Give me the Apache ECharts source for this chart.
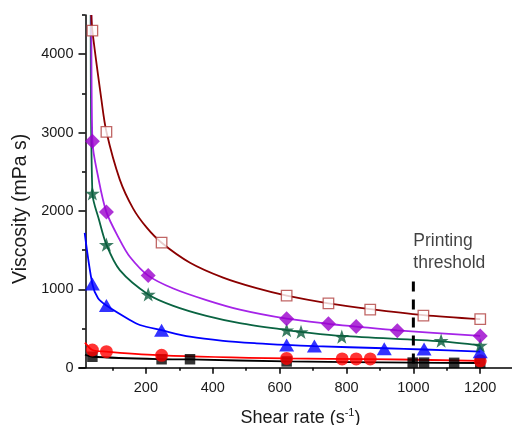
<!DOCTYPE html>
<html>
<head>
<meta charset="utf-8">
<script src="https://cdn.jsdelivr.net/npm/echarts@6/dist/echarts.min.js"></script>
<style>
html,body{margin:0;padding:0;background:#fff;}
#chart{width:512px;height:425px;}
</style>
</head>
<body>
<div id="chart"></div>
<script>
// ---- tick values ----
const xMajorTicks = [200, 400, 600, 800, 1000, 1200];
const xMinorTicks = [100, 300, 500, 700, 900, 1100];
const yMajorTicks = [0, 1000, 2000, 3000, 4000];
const yMinorTicks = [500, 1500, 2500, 3500, 4500];

// ---- measured points (markers) ----
const markersOpenSquare = [[40,4300],[82,3010],[247,1595],[621,920],[746,820],[871,742],[1030,665],[1200,620]];
const markersDiamond    = [[40,2890],[82,1985],[207,1175],[621,625],[746,560],[829,525],[952,470],[1200,405]];
const markersStar       = [[40,2225],[82,1570],[207,935],[621,480],[664,457],[786,397],[1083,345],[1200,285]];
const markersTriangle   = [[40,1067],[82,793],[247,478],[621,290],[704,277],[913,243],[1032,237],[1200,205]];
const markersCircle     = [[40,226],[82,205],[247,158],[621,118],[787,112],[829,112],[871,112],[1200,88]];
const markersSquare     = [[40,140],[247,108],[332,108],[621,80],[998,65],[1032,65],[1122,62],[1200,60]];

// ---- fitted curves ----
const curveOpenSquare = [[37,4500],[40,4300],[67,3420],[82,3010],[122,2400],[162,2030],[202,1790],[247,1595],[332,1340],[431,1150],[531,1015],[621,920],[746,822],[871,748],[1030,672],[1200,620]];
const curveDiamond    = [[37,4500],[40,2890],[57,2440],[82,1985],[122,1630],[152,1416],[207,1175],[282,1010],[381,862],[481,740],[621,625],[746,560],[829,525],[952,475],[1200,405]];
const curveStar       = [[35,4500],[40,2225],[60,1885],[82,1570],[122,1245],[207,935],[282,790],[381,662],[481,570],[621,480],[664,457],[786,405],[1083,335],[1200,285]];
const curveTriangle   = [[17,1720],[40,1067],[57,885],[82,793],[152,609],[182,545],[247,478],[332,396],[431,343],[531,311],[621,290],[704,275],[913,248],[1032,232],[1200,205]];
const curveCircle     = [[18,320],[40,226],[82,205],[247,158],[621,118],[871,110],[1200,88]];
const curveSquare     = [[18,165],[40,140],[247,108],[332,105],[621,80],[1000,65],[1200,60]];

// ---- printing threshold ----
const thresholdLine = [[1000,1100],[1000,0]];
const thresholdLabel = 'Printing\nthreshold';

const FONT = "'Liberation Sans', Arial, sans-serif";
const STAR = 'path://M50,0 L61.8,35.1 L98.1,35.1 L68.8,56.7 L79.4,91 L50,70 L20.6,91 L31.2,56.7 L1.9,35.1 L38.2,35.1 Z';

function curve(name, data, color) {
  return {
    name: name, type: 'line', data: data, showSymbol: false, symbol: 'none',
    smooth: 0.3,
    lineStyle: { color: color, width: 1.8 }, z: 2, silent: true
  };
}
function marks(name, data, symbol, size, itemStyle) {
  return {
    name: name, type: 'scatter', data: data, symbol: symbol, symbolSize: size,
    symbolKeepAspect: true, itemStyle: itemStyle, z: 3, silent: true
  };
}
const plain = function (v) { return String(v); };

const chart = echarts.init(document.getElementById('chart'), null, { renderer: 'canvas' });
const axisLineStyle = { color: '#000', width: 1.5 };
chart.setOption({
  animation: false,
  backgroundColor: '#fff',
  grid: { left: 79, top: 15, width: 433, height: 352.7, containLabel: false, outerBoundsMode: 'none' },
  xAxis: [
    {
      type: 'value', min: 0, max: 1295, interval: 200,
      axisLine: { show: true, onZero: false, lineStyle: axisLineStyle },
      axisTick: { show: true, length: 6, customValues: xMajorTicks, lineStyle: axisLineStyle },
      axisLabel: { customValues: xMajorTicks, formatter: plain, margin: 13, fontSize: 14.5, color: '#1a1a1a', fontFamily: FONT },
      splitLine: { show: false },
      name: 'Shear rate (s{sup|-1})', nameLocation: 'middle', nameGap: 40,
      nameTextStyle: {
        fontSize: 18, color: '#1a1a1a', fontFamily: FONT, padding: [0, 0, 0, 10],
        rich: { sup: { fontSize: 11, fontFamily: FONT, color: '#1a1a1a', padding: [0, 0, 9, 0] } }
      }
    },
    {
      type: 'value', min: 0, max: 1295, position: 'bottom',
      axisLine: { show: false, onZero: false },
      axisTick: { show: true, length: 3, customValues: xMinorTicks, lineStyle: axisLineStyle },
      axisLabel: { show: false }, splitLine: { show: false }
    }
  ],
  yAxis: [
    {
      type: 'value', min: 0, max: 4500, interval: 1000, offset: -6.5, position: 'left',
      axisLine: { show: true, onZero: false, lineStyle: axisLineStyle },
      axisTick: { show: true, length: 7, customValues: yMajorTicks, lineStyle: axisLineStyle },
      axisLabel: { customValues: yMajorTicks, formatter: plain, margin: 12, fontSize: 14.5, color: '#1a1a1a', fontFamily: FONT },
      splitLine: { show: false },
      name: 'Viscosity (mPa s)', nameLocation: 'middle', nameGap: 53, nameRotate: 90,
      nameTextStyle: { fontSize: 19.5, color: '#1a1a1a', fontFamily: FONT, padding: [0, 35, 0, 0] }
    },
    {
      type: 'value', min: 0, max: 4500, interval: 500, offset: -6.5, position: 'left',
      axisLine: { show: false, onZero: false },
      axisTick: { show: true, length: 3.5, customValues: yMinorTicks, lineStyle: axisLineStyle },
      axisLabel: { show: false }, splitLine: { show: false }
    }
  ],
  series: [
    curve('c-square', curveSquare, '#000000'),
    curve('c-circle', curveCircle, '#ff0000'),
    curve('c-triangle', curveTriangle, '#0000ff'),
    curve('c-star', curveStar, '#0a6442'),
    curve('c-diamond', curveDiamond, '#a524e8'),
    curve('c-open', curveOpenSquare, '#8b0000'),
    {
      name: 'threshold', type: 'line', data: thresholdLine, showSymbol: false, symbol: 'none',
      lineStyle: { color: '#000', width: 3, type: [10, 8] }, z: 4, silent: true
    },
    {
      name: 'threshold-label', type: 'scatter', data: [thresholdLine[0]], symbolSize: 1,
      itemStyle: { color: 'rgba(0,0,0,0)' }, z: 5, silent: true,
      label: {
        show: true, position: 'top', distance: 7, align: 'left',
        formatter: thresholdLabel, fontSize: 17.5, lineHeight: 21.6, color: '#111', fontFamily: FONT
      }
    },
    marks('m-square', markersSquare, 'rect', 10.5, { color: '#000' }),
    marks('m-circle', markersCircle, 'circle', 13, { color: '#ff0000' }),
    marks('m-triangle', markersTriangle, 'triangle', [15, 13], { color: '#0000ff' }),
    marks('m-star', markersStar, STAR, 15, { color: '#0a5c3c' }),
    marks('m-diamond', markersDiamond, 'diamond', 15, { color: '#9a00cc' }),
    marks('m-open', markersOpenSquare, 'rect', 10.5, { color: '#ffffff', borderColor: '#b0403e', borderWidth: 1.3 })
  ]
});
</script>
</body>
</html>
